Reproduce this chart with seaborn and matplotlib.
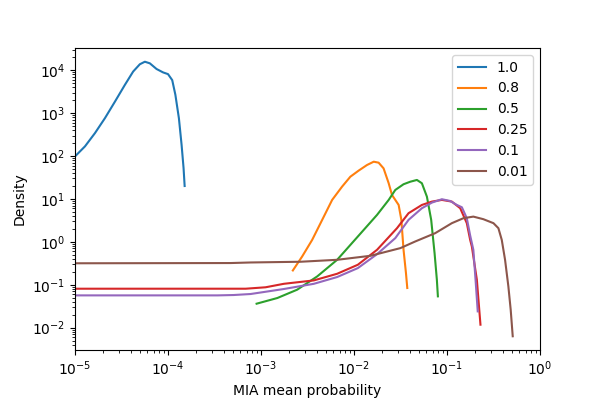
import pandas as pd
import seaborn as sns
import matplotlib
matplotlib.use("Agg")
import matplotlib.pyplot as plt

# Density curves, one per ratio
labels = ["1.0", "0.8", "0.5", "0.25", "0.1", "0.01"]

x_10 = [1.00e-5, 1.28e-5, 1.64e-5, 2.10e-5, 2.69e-5, 3.44e-5, 4.22e-5, 4.98e-5,
        5.64e-5, 6.38e-5, 7.53e-5, 8.86e-5, 1.00e-4, 1.11e-4, 1.20e-4, 1.31e-4,
        1.40e-4, 1.47e-4, 1.51e-4]
y_10 = [98, 168, 343, 766, 1860, 4570, 9330, 13800,
        15800, 14500, 10700, 8900, 8130, 5890, 2690, 759,
        182, 52.5, 20]

x_08 = [2.20e-3, 2.77e-3, 3.55e-3, 4.55e-3, 5.82e-3, 7.45e-3, 9.14e-3, 1.12e-2,
        1.38e-2, 1.63e-2, 1.84e-2, 2.08e-2, 2.36e-2, 2.56e-2, 2.78e-2, 3.02e-2,
        3.23e-2, 3.41e-2, 3.62e-2, 3.74e-2]
y_08 = [0.215, 0.455, 1.11, 3.25, 9.48, 19.4, 33.0, 45.6,
        61.8, 73.8, 70.0, 51.6, 23.2, 12.4, 9.48, 7.24,
        3.25, 0.652, 0.187, 0.0838]

x_05 = [8.97e-4, 1.50e-3, 2.45e-3, 4.02e-3, 6.59e-3, 1.10e-2, 1.77e-2, 2.36e-2,
        2.78e-2, 3.41e-2, 4.03e-2, 4.75e-2, 5.37e-2, 6.08e-2, 6.76e-2, 7.35e-2,
        7.78e-2, 7.98e-2]
y_05 = [0.0361, 0.0490, 0.0766, 0.156, 0.381, 1.33, 4.25, 9.48,
        16.2, 22.0, 25.2, 27.7, 23.2, 11.3, 3.25, 0.546,
        0.131, 0.0535]

x_025 = [1.0e-5, 6.84e-4, 1.12e-3, 1.76e-3, 3.70e-3, 6.59e-3, 1.10e-2, 1.77e-2,
         2.90e-2, 3.86e-2, 5.37e-2, 6.89e-2, 8.81e-2, 0.1127, 0.1387, 0.1633,
         0.1774, 0.185, 0.2094, 0.229]
y_025 = [0.0807, 0.0807, 0.0871, 0.105, 0.126, 0.180, 0.292, 0.652,
         2.08, 4.65, 7.24, 8.67, 9.48, 8.67, 6.07, 2.72,
         1.11, 0.778, 0.131, 0.0117]

x_01 = [1.0e-5, 3.42e-4, 5.08e-4, 7.73e-4, 1.76e-3, 3.70e-3, 6.59e-3, 1.10e-2,
        1.77e-2, 2.78e-2, 3.86e-2, 5.37e-2, 6.89e-2, 8.81e-2, 0.108, 0.1276,
        0.1445, 0.1633, 0.1774, 0.192, 0.203, 0.214]
y_01 = [0.0564, 0.0564, 0.0575, 0.0607, 0.0794, 0.105, 0.151, 0.244,
        0.516, 1.22, 3.25, 6.07, 8.22, 9.84, 8.97, 7.24,
        6.40, 3.55, 1.41, 0.652, 0.126, 0.0239]

x_001 = [1.0e-5, 4.72e-4, 7.73e-4, 2.66e-3, 6.59e-3, 1.50e-2, 3.15e-2, 4.56e-2,
         7.46e-2, 0.1127, 0.150, 0.192, 0.246, 0.316, 0.357, 0.388,
         0.421, 0.457, 0.484, 0.509]
y_001 = [0.316, 0.320, 0.330, 0.343, 0.381, 0.472, 0.713, 1.02,
         1.59, 2.72, 3.55, 3.87, 3.37, 2.72, 2.08, 1.11,
         0.381, 0.0912, 0.0262, 0.00628]

xs = [x_10, x_08, x_05, x_025, x_01, x_001]
ys = [y_10, y_08, y_05, y_025, y_01, y_001]

frames = []
for lab, xv, yv in zip(labels, xs, ys):
    frames.append(pd.DataFrame({"prob": xv, "density": yv, "ratio": lab}))
df = pd.concat(frames, ignore_index=True)

fig, ax = plt.subplots(figsize=(6, 4), dpi=100)
fig.subplots_adjust(left=0.125, right=0.9, top=0.88, bottom=0.125)

sns.lineplot(data=df, x="prob", y="density", hue="ratio", hue_order=labels,
             palette="tab10", estimator=None, sort=False, ax=ax)

ax.set_xscale("log")
ax.set_yscale("log")
ax.set_xlim(1e-5, 1)
ax.set_xlabel("MIA mean probability")
ax.set_ylabel("Density")

handles, labs = ax.get_legend_handles_labels()
ax.legend(handles, labs, loc="upper right")

fig.savefig("out.png")
